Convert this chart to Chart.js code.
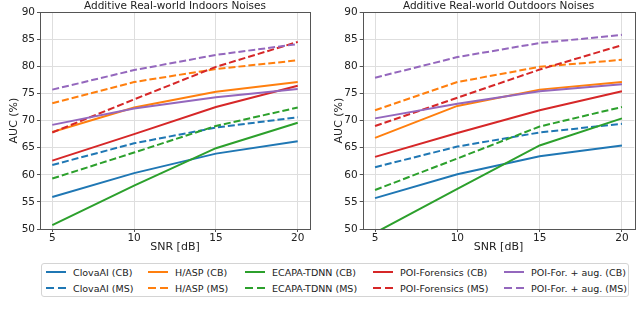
<!DOCTYPE html>
<html>
<head>
<meta charset="utf-8">
<script src="https://cdn.jsdelivr.net/npm/chart.js@4.4.0/dist/chart.umd.min.js"></script>
<style>
  body { margin: 0; background: #fff; width: 640px; height: 312px; overflow: hidden; position: relative; font-family: "DejaVu Sans", sans-serif; }
  .panel { position: absolute; top: 0; width: 320px; height: 255px; }
  #legend { position: absolute; left: 41px; top: 263px; width: 588px; height: 34px; box-sizing: border-box;
            border: 1px solid #d4d4d4; border-radius: 3px; padding: 0 0 0 4px;
            display: grid; grid-template-columns: 102px 97px 128px 131px auto; grid-template-rows: 16px 16px; grid-auto-flow: column; }
  .item { display: flex; align-items: center; font-size: 9.5px; color: #222; white-space: nowrap; }
  .swatch { width: 20px; height: 2px; margin-right: 7px; flex: none; }
</style>
</head>
<body>
<div class="panel" style="left:0"><canvas id="indoors"></canvas></div>
<div class="panel" style="left:320px"><canvas id="outdoors"></canvas></div>
<div id="legend"></div>
<script>
// x values and labels
const snr = [5, 10, 15, 20];
const names = ['ClovaAI (CB)', 'ClovaAI (MS)', 'H/ASP (CB)', 'H/ASP (MS)', 'ECAPA-TDNN (CB)', 'ECAPA-TDNN (MS)',
               'POI-Forensics (CB)', 'POI-Forensics (MS)', 'POI-For. + aug. (CB)', 'POI-For. + aug. (MS)'];
const colors = ['#1f77b4', '#1f77b4', '#ff7f0e', '#ff7f0e', '#2ca02c', '#2ca02c', '#d62728', '#d62728', '#9467bd', '#9467bd'];
const dashed = [false, true, false, true, false, true, false, true, false, true];

// indoors noises (AUC %)
const inClovaCB = [55.9, 60.3, 63.9, 66.2];
const inClovaMS = [61.8, 65.8, 68.7, 70.6];
const inHaspCB  = [67.9, 72.4, 75.3, 77.1];
const inHaspMS  = [73.2, 77.1, 79.5, 81.1];
const inEcapaCB = [50.7, 58.0, 64.9, 69.6];
const inEcapaMS = [59.3, 64.1, 69.0, 72.4];
const inPoiCB   = [62.6, 67.5, 72.5, 76.4];
const inPoiMS   = [67.8, 73.9, 79.9, 84.5];
const inAugCB   = [69.2, 72.2, 74.3, 75.8];
const inAugMS   = [75.7, 79.3, 82.1, 84.1];

// outdoors noises (AUC %)
const outClovaCB = [55.7, 60.1, 63.4, 65.4];
const outClovaMS = [61.4, 65.2, 67.8, 69.4];
const outHaspCB  = [66.8, 72.7, 75.7, 77.1];
const outHaspMS  = [71.9, 77.1, 79.9, 81.2];
const outEcapaCB = [49.3, 57.4, 65.4, 70.4];
const outEcapaMS = [57.2, 63.0, 68.9, 72.5];
const outPoiCB   = [63.3, 67.7, 71.9, 75.4];
const outPoiMS   = [69.0, 74.2, 79.4, 83.9];
const outAugCB   = [70.4, 73.1, 75.4, 76.7];
const outAugMS   = [77.9, 81.7, 84.3, 85.8];

const indoorSeries = [inClovaCB, inClovaMS, inHaspCB, inHaspMS, inEcapaCB, inEcapaMS, inPoiCB, inPoiMS, inAugCB, inAugMS];
const outdoorSeries = [outClovaCB, outClovaMS, outHaspCB, outHaspMS, outEcapaCB, outEcapaMS, outPoiCB, outPoiMS, outAugCB, outAugMS];

// box round the plot area, like the matplotlib spines
const frame = {
    id: 'frame',
    afterDatasetsDraw(chart) {
        const { ctx, chartArea: a } = chart;
        ctx.save();
        ctx.strokeStyle = '#555';
        ctx.lineWidth = 1;
        ctx.strokeRect(Math.round(a.left) + 0.5, Math.round(a.top) + 0.5, Math.round(a.right - a.left), Math.round(a.bottom - a.top));
        ctx.restore();
    }
};

function makeChart(id, title, series, axisWidth, titlePad, rightPad) {
    const font = { family: 'DejaVu Sans', size: 10.5 };
    const labelFont = { family: 'DejaVu Sans', size: 11 };
    new Chart(document.getElementById(id), {
        type: 'line',
        data: {
            datasets: series.map((vals, i) => ({
                label: names[i],
                data: snr.map((x, j) => ({ x: x, y: vals[j] })),
                borderColor: colors[i],
                borderWidth: 2,
                borderDash: dashed[i] ? [7, 3] : [],
                pointRadius: 0,
                tension: 0,
                order: -i
            }))
        },
        options: {
            responsive: true,
            maintainAspectRatio: false,
            animation: false,
            layout: { padding: { left: 0, right: rightPad, top: 0, bottom: 0 } },
            plugins: {
                legend: { display: false },
                tooltip: { enabled: false },
                title: { display: true, text: title, fullSize: false, color: '#222',
                         font: { family: 'DejaVu Sans', size: 10.5, weight: 'normal', lineHeight: 1.15 }, padding: 0 }
            },
            scales: {
                x: {
                    type: 'linear', min: 4.25, max: 20.75,
                    afterBuildTicks: s => { s.ticks = snr.map(v => ({ value: v })); },
                    afterFit: s => { s.height = 26; },
                    ticks: { color: '#222', font: font, padding: 0, maxRotation: 0 },
                    grid: { color: '#dedede', tickColor: '#555', tickLength: 3 },
                    border: { display: false },
                    title: { display: true, text: 'SNR [dB]', color: '#222', font: labelFont, padding: { top: 0, bottom: 1 } }
                },
                y: {
                    min: 50, max: 90,
                    afterFit: s => { s.width = axisWidth; },
                    ticks: { stepSize: 5, color: '#222', font: font, padding: 2 },
                    grid: { color: '#dedede', tickColor: '#555', tickLength: 3 },
                    border: { display: false },
                    title: { display: true, text: 'AUC (%)', color: '#222', font: labelFont, padding: { top: titlePad, bottom: 0 } }
                }
            }
        },
        plugins: [frame]
    });
}

makeChart('indoors', 'Additive Real-world Indoors Noises', indoorSeries, 40, 8, 10);
makeChart('outdoors', 'Additive Real-world Outdoors Noises', outdoorSeries, 42.7, 12.5, 5.7);

// legend, two rows, filled column by column
const legend = document.getElementById('legend');
names.forEach((n, i) => {
    const item = document.createElement('div');
    item.className = 'item';
    const sw = document.createElement('span');
    sw.className = 'swatch';
    sw.style.background = dashed[i]
        ? `linear-gradient(90deg, ${colors[i]} 0 8px, transparent 8px 12px, ${colors[i]} 12px 20px)`
        : colors[i];
    item.appendChild(sw);
    item.appendChild(document.createTextNode(n));
    legend.appendChild(item);
});
</script>
</body>
</html>
